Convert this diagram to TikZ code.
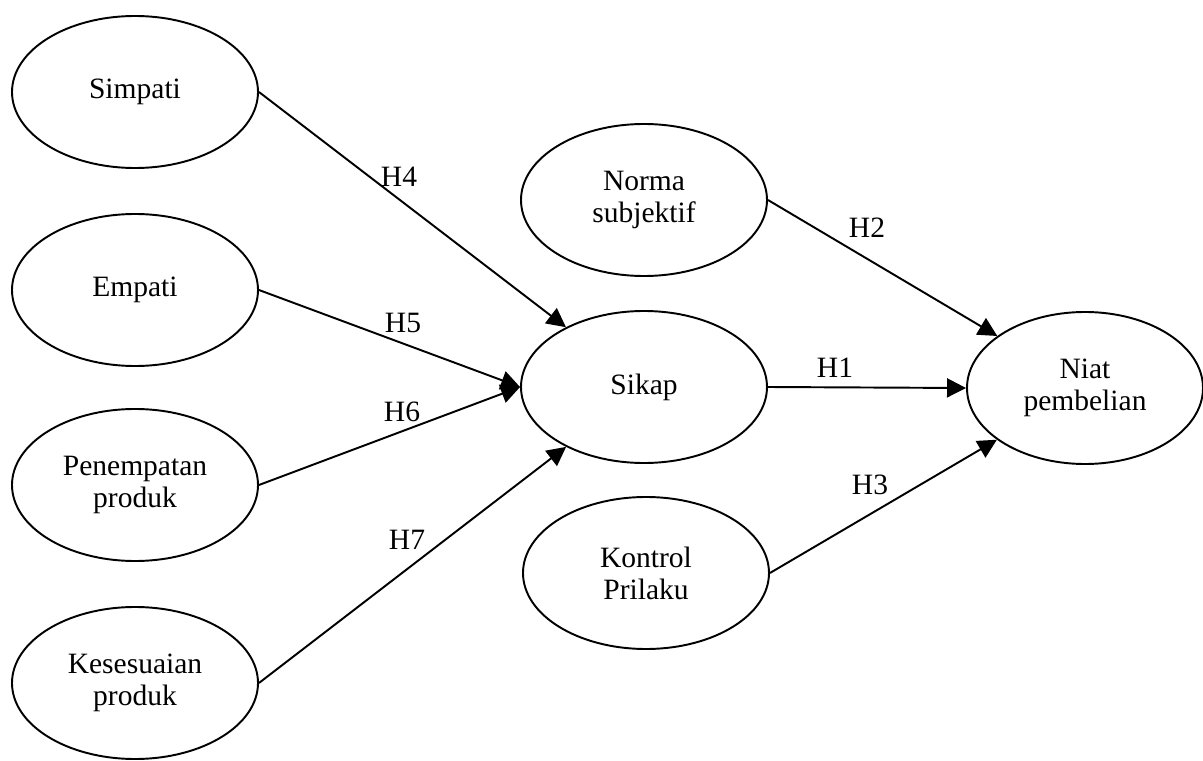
\documentclass[tikz,border=0pt]{standalone}
\usepackage{fontspec}
\setmainfont{Liberation Serif}
\usetikzlibrary{shapes.geometric,arrows.meta}
\begin{document}
\begin{tikzpicture}[line width=1.1pt,
  var/.style={ellipse, draw, minimum width=4.92cm, minimum height=3.04cm, inner sep=0pt, align=center, font=\fontsize{16.8}{18.2}\selectfont},
  hyp/.style={-{Triangle[length=0.38cm,width=0.38cm]}},
  lbl/.style={font=\fontsize{16.8}{18.2}\selectfont}]
\useasboundingbox (0,0) rectangle (24.06,15.2);
% left column
\node[var] (simpati) at (2.70,13.36) {Simpati};
\node[var] (empati) at (2.70,9.40) {Empati};
\node[var] (penempatan) at (2.70,5.50) {Penempatan\\produk};
\node[var] (kesesuaian) at (2.70,1.54) {Kesesuaian\\produk};
% middle column
\node[var] (norma) at (12.88,11.20) {Norma\\subjektif};
\node[var] (sikap) at (12.88,7.46) {Sikap};
\node[var] (kontrol) at (12.92,3.74) {Kontrol\\Prilaku};
\node[var, minimum width=4.72cm] (niat) at (21.70,7.44) {Niat\\pembelian};
% hypotheses
\draw [hyp] (simpati.east) -- (sikap);
\draw [hyp] (empati.east) -- (sikap.west);
\draw [hyp] (penempatan.east) -- (sikap.west);
\draw [hyp] (kesesuaian.east) -- (sikap);
\draw [hyp] (norma.east) -- (niat);
\draw [hyp] (sikap.east) -- (niat.west);
\draw [hyp] (kontrol.east) -- (niat);
\node[lbl] (h4) at (7.98,11.66) {H4};
\node[lbl] (h5) at (8.06,8.74) {H5};
\node[lbl] (h6) at (8.04,6.96) {H6};
\node[lbl] (h7) at (8.14,4.40) {H7};
\node[lbl] (h2) at (17.34,10.64) {H2};
\node[lbl] (h1) at (16.70,7.84) {H1};
\node[lbl] (h3) at (17.40,5.50) {H3};
\end{tikzpicture}
\end{document}
